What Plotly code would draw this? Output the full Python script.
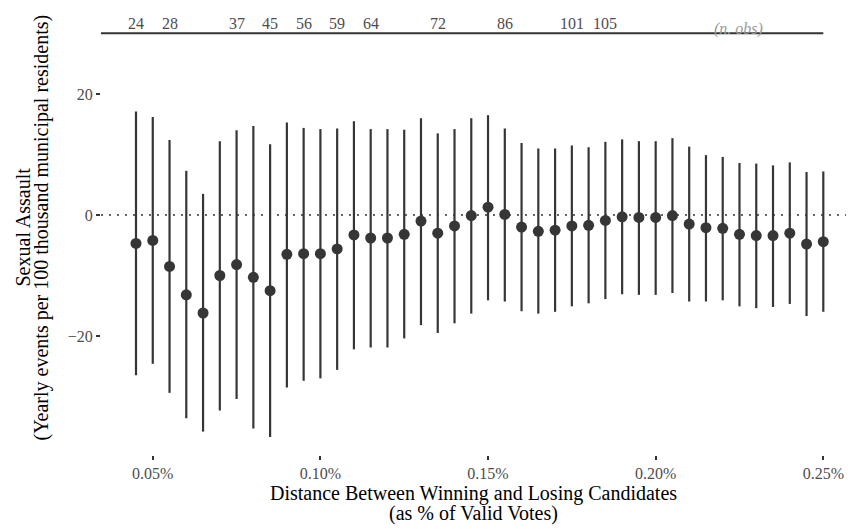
import plotly.graph_objects as go

# Bandwidth: distance between winning and losing candidates (% of valid votes)
margin_pct = [0.045, 0.050, 0.055, 0.060, 0.065, 0.070, 0.075, 0.080, 0.085, 0.090,
              0.095, 0.100, 0.105, 0.110, 0.115, 0.120, 0.125, 0.130, 0.135, 0.140,
              0.145, 0.150, 0.155, 0.160, 0.165, 0.170, 0.175, 0.180, 0.185, 0.190,
              0.195, 0.200, 0.205, 0.210, 0.215, 0.220, 0.225, 0.230, 0.235, 0.240,
              0.245, 0.250]

# Point estimates and 95% confidence bounds
estimate = [-4.7, -4.2, -8.5, -13.2, -16.2, -10.0, -8.2, -10.3, -12.5, -6.5,
            -6.4, -6.4, -5.6, -3.3, -3.8, -3.8, -3.2, -1.0, -3.0, -1.8,
            -0.1, 1.3, 0.1, -2.0, -2.7, -2.5, -1.8, -1.7, -0.9, -0.3,
            -0.4, -0.4, -0.1, -1.5, -2.1, -2.2, -3.2, -3.4, -3.4, -3.0,
            -4.8, -4.4]
ci_low = [-26.5, -24.6, -29.4, -33.6, -35.8, -32.3, -30.4, -35.3, -36.7, -28.5,
          -27.4, -27.0, -25.6, -22.2, -21.9, -21.9, -20.4, -18.2, -19.5, -17.9,
          -16.3, -14.1, -14.3, -15.9, -16.3, -16.0, -15.1, -14.6, -13.9, -13.1,
          -13.2, -13.2, -12.9, -14.3, -14.3, -14.1, -15.1, -15.4, -15.2, -14.7,
          -16.7, -16.0]
ci_high = [17.1, 16.2, 12.4, 7.3, 3.5, 12.2, 14.0, 14.7, 11.7, 15.3,
           14.4, 14.2, 14.3, 15.5, 14.2, 14.2, 14.1, 16.0, 13.5, 14.2,
           16.0, 16.5, 14.3, 11.9, 11.0, 11.0, 11.5, 11.2, 12.1, 12.5,
           12.2, 12.2, 12.7, 11.3, 9.9, 9.6, 8.6, 8.5, 8.2, 8.7,
           7.1, 7.2]

# Number of observations shown along the top
nobs_x = [0.045, 0.055, 0.075, 0.085, 0.095, 0.105, 0.115, 0.135, 0.155, 0.175, 0.185]
nobs_labels = ["24", "28", "37", "45", "56", "59", "64", "72", "86", "101", "105"]

x_ticks = [0.05, 0.10, 0.15, 0.20, 0.25]
x_tick_labels = ["0.05%", "0.10%", "0.15%", "0.20%", "0.25%"]
y_ticks = [-20, 0, 20]
y_tick_labels = ["\u221220", "0", "20"]

x_title = ["Distance Between Winning and Losing Candidates", "(as % of Valid Votes)"]
y_title = ["Sexual Assault", "(Yearly events per 100 thousand municipal residents)"]

X_RANGE = [0.03456, 0.25677]
Y_RANGE = [-39.67, 35.54]
TOP_RULE_Y = 30.03
NOBS_Y = 31.7
NOBS_NOTE_Y = 30.7

INK = "#363636"
FONT = "Liberation Serif"
TICK_GREY = "#4D4D4D"

err_plus = [h - e for h, e in zip(ci_high, estimate)]
err_minus = [e - l for e, l in zip(estimate, ci_low)]

fig = go.Figure()

# zero reference line
fig.add_shape(type="line", xref="paper", yref="y", x0=0, x1=1, y0=0, y1=0,
              line=dict(color="#333333", width=1.5, dash="2px,6px"), layer="below")

# rule under the observation counts
fig.add_shape(type="line", xref="x", yref="y", x0=X_RANGE[0], x1=margin_pct[-1],
              y0=TOP_RULE_Y, y1=TOP_RULE_Y, line=dict(color="#333333", width=2))

fig.add_trace(go.Scatter(
    x=margin_pct, y=estimate, mode="markers",
    marker=dict(size=11, color=INK),
    error_y=dict(type="data", symmetric=False, array=err_plus, arrayminus=err_minus,
                 thickness=2.2, width=0, color=INK),
    showlegend=False,
))

for xv, lab in zip(nobs_x, nobs_labels):
    fig.add_annotation(x=xv, y=NOBS_Y, xref="x", yref="y", text=lab, showarrow=False,
                       font=dict(family=FONT, size=16, color=TICK_GREY),
                       xanchor="center", yanchor="middle")

fig.add_annotation(x=0.2248, y=NOBS_NOTE_Y, xref="x", yref="y", text="<i>(n. obs)</i>",
                   showarrow=False, font=dict(family=FONT, size=16, color="#9A9A9A"),
                   xanchor="center", yanchor="middle")

# axis titles (two lines each, tight line spacing)
for i, line in enumerate(x_title):
    fig.add_annotation(x=0.5, y=0, xref="paper", yref="paper", text=line, showarrow=False,
                       font=dict(family=FONT, size=20, color="#000000"),
                       xanchor="center", yanchor="middle", yshift=-38 - 20 * i)
for i, line in enumerate(y_title):
    fig.add_annotation(x=0, y=0.5, xref="paper", yref="paper", text=line, showarrow=False,
                       font=dict(family=FONT, size=20, color="#000000"), textangle=-90,
                       xanchor="center", yanchor="middle", xshift=-79 + 19 * i)

fig.update_layout(
    width=848, height=529,
    margin=dict(l=101, r=2, t=0, b=74),
    plot_bgcolor="white", paper_bgcolor="white",
    font=dict(family=FONT, size=16, color="#000000"),
    xaxis=dict(
        range=X_RANGE, showgrid=False, zeroline=False, showline=False,
        tickmode="array", tickvals=x_ticks, ticktext=x_tick_labels,
        ticks="outside", ticklen=4, tickwidth=1.5, tickcolor="#333333",
        tickfont=dict(family=FONT, size=16, color=TICK_GREY),
    ),
    yaxis=dict(
        range=Y_RANGE, showgrid=False, zeroline=False, showline=False,
        tickmode="array", tickvals=y_ticks, ticktext=y_tick_labels,
        ticks="outside", ticklen=4, tickwidth=1.5, tickcolor="#333333",
        tickfont=dict(family=FONT, size=16, color=TICK_GREY),
    ),
)

fig.write_html("out.html")
